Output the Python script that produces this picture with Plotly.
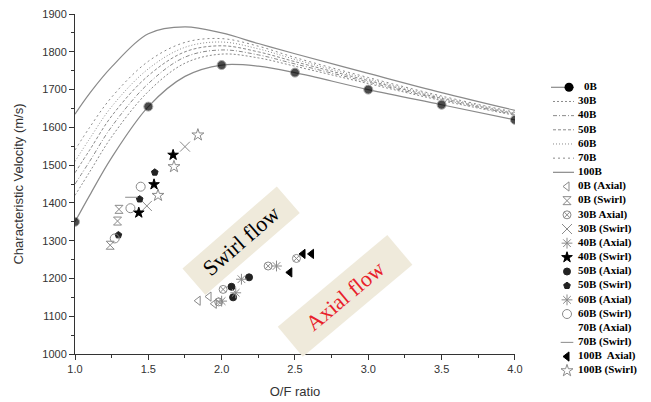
import plotly.graph_objects as go

# ---- theoretical curves ----
CURVE_X = [1.0, 1.1, 1.25, 1.5, 1.75, 2.0, 2.25, 2.5, 3.0, 3.5, 4.0]
C_0B   = [1350, 1420, 1520, 1655, 1735, 1765, 1762, 1745, 1700, 1660, 1620]
C_30B  = [1420, 1482, 1575, 1695, 1770, 1794, 1784, 1762, 1716, 1671, 1632]
C_40B  = [1450, 1510, 1602, 1716, 1786, 1805, 1792, 1768, 1720, 1674, 1634]
C_50B  = [1480, 1540, 1630, 1737, 1800, 1816, 1800, 1774, 1724, 1677, 1636]
C_60B  = [1510, 1570, 1655, 1755, 1812, 1826, 1808, 1780, 1728, 1680, 1638]
C_70B  = [1540, 1600, 1680, 1775, 1825, 1835, 1815, 1785, 1732, 1683, 1640]
C_100B = [1635, 1690, 1760, 1848, 1866, 1850, 1822, 1795, 1743, 1692, 1645]
MARK_0B = [9, 0, 0, 9, 0, 9, 0, 9, 9, 9, 9]

# ---- experimental points ----
AX0_X, AX0_Y = [1.84, 1.914, 1.95], [1141, 1152, 1133]
SW0_X, SW0_Y = [1.24, 1.29, 1.30], [1288, 1352, 1383]
AX30_X, AX30_Y = [1.98, 2.01, 2.317, 2.51], [1138, 1171, 1233, 1253]
SW30_X, SW30_Y = [1.49, 1.75], [1392, 1549]
AX40_X, AX40_Y = [2.0, 2.374], [1140, 1233]
SW40_X, SW40_Y = [1.435, 1.539, 1.669], [1374, 1449, 1527]
AX50_X, AX50_Y = [2.078, 2.067, 2.187], [1150, 1178, 1203]
SW50_X, SW50_Y = [1.296, 1.441, 1.544], [1315, 1410, 1481]
AX60_X, AX60_Y = [2.096, 2.135], [1162, 1198]
SW60_X, SW60_Y = [1.271, 1.378, 1.448], [1306, 1386, 1443]
AX70_X, AX70_Y = [], []
SW70_X, SW70_Y = [1.385], [1415]
AX100_X, AX100_Y = [2.465, 2.555, 2.613], [1216, 1265, 1265]
SW100_X, SW100_Y = [1.566, 1.675, 1.838], [1420, 1496, 1580]

X_TICKS = [1.0, 1.5, 2.0, 2.5, 3.0, 3.5, 4.0]
Y_TICKS = [1000, 1100, 1200, 1300, 1400, 1500, 1600, 1700, 1800, 1900]

OFF = 8                      # page body margin
W, H = 651 - OFF, 402 - OFF
PL, PR, PT, PB = 75 - OFF, 515 - OFF, 14 - OFF, 354 - OFF   # plot area in figure pixels
GRAY = "#8a8a8a"
fig = go.Figure()

# ---- curves ----
line_series = [
    ("0B", C_0B, "solid", 1.2),
    ("30B", C_30B, "2px,2px", 1),
    ("40B", C_40B, "4px,2px,1px,2px", 1),
    ("50B", C_50B, "3px,2px", 1),
    ("60B", C_60B, "1px,2px", 1),
    ("70B", C_70B, "2px,3px", 1),
    ("100B", C_100B, "solid", 1.2),
]
for name, ys, dash, w in line_series:
    if name == "0B":
        fig.add_trace(go.Scatter(x=CURVE_X, y=ys, name=name, mode="lines+markers",
                                 line=dict(color=GRAY, width=w, shape="spline"),
                                 marker=dict(color="black", size=MARK_0B), showlegend=False))
    else:
        fig.add_trace(go.Scatter(x=CURVE_X, y=ys, name=name, mode="lines",
                                 line=dict(color=GRAY, width=w, dash=dash, shape="spline"),
                                 showlegend=False))

pts = [
    ("0B (Axial)", AX0_X, AX0_Y, "triangle-left-open", GRAY, 8),
    ("0B (Swirl)", SW0_X, SW0_Y, "hourglass-open", GRAY, 8),
    ("30B Axial)", AX30_X, AX30_Y, "circle-x-open", GRAY, 8),
    ("30B (Swirl)", SW30_X, SW30_Y, "x-thin-open", GRAY, 10),
    ("40B (Axial)", AX40_X, AX40_Y, "asterisk-open", GRAY, 9),
    ("40B (Swirl)", SW40_X, SW40_Y, "star", "black", 8),
    ("50B (Axial)", AX50_X, AX50_Y, "circle", "#222222", 7),
    ("50B (Swirl)", SW50_X, SW50_Y, "pentagon", "#222222", 7),
    ("60B (Axial)", AX60_X, AX60_Y, "asterisk-open", GRAY, 9),
    ("60B (Swirl)", SW60_X, SW60_Y, "circle-open", GRAY, 9),
    ("70B (Axial)", AX70_X, AX70_Y, "circle", "rgba(0,0,0,0)", 8),
    ("70B (Swirl)", SW70_X, SW70_Y, "line-ew-open", GRAY, 9),
    ("100B  Axial)", AX100_X, AX100_Y, "triangle-left", "black", 8),
    ("100B (Swirl)", SW100_X, SW100_Y, "star-open", GRAY, 9),
]
for name, xs, ys, sym, col, sz in pts:
    fig.add_trace(go.Scatter(x=xs, y=ys, name=name, mode="markers", showlegend=False,
                             marker=dict(symbol=sym, color=col, size=sz,
                                         line=dict(color=col, width=1))))

# ---- hand-built legend on a helper axis measured in page pixels ----
LEG_Y0, LEG_STEP = 87.3, 14.17
LINE_X0, LINE_X1, SYM_X, TXT_X = 553, 574, 567, 578
LEG_LEFT = 530
names = []
row = 0
for name, ys, dash, w in line_series:
    yy = LEG_Y0 + row * LEG_STEP
    fig.add_trace(go.Scatter(x=[LINE_X0 - (2 if name == "0B" else 0), LINE_X1], y=[yy, yy],
                             mode="lines", line=dict(color=GRAY, width=w, dash=dash),
                             xaxis="x2", yaxis="y2", showlegend=False, hoverinfo="skip"))
    if name == "0B":
        fig.add_trace(go.Scatter(x=[569], y=[yy], mode="markers",
                                 marker=dict(color="black", size=9),
                                 xaxis="x2", yaxis="y2", showlegend=False, hoverinfo="skip"))
    names.append((name, yy))
    row += 1
for name, xs, ys, sym, col, sz in pts:
    yy = LEG_Y0 + row * LEG_STEP
    fig.add_trace(go.Scatter(x=[SYM_X], y=[yy], mode="markers",
                             marker=dict(symbol=sym, color=col, size=sz,
                                         line=dict(color=col, width=1)),
                             xaxis="x2", yaxis="y2", showlegend=False, hoverinfo="skip"))
    names.append((name, yy))
    row += 1
fig.add_trace(go.Scatter(x=[TXT_X + (6 if n == "0B" else 0) for n, _ in names],
                         y=[yy for _, yy in names], text=[n for n, _ in names],
                         mode="text", textposition="middle right",
                         textfont=dict(family="Liberation Serif", size=11, color="black",
                                       weight="bold"),
                         xaxis="x2", yaxis="y2", showlegend=False, hoverinfo="skip"))

fig.add_annotation(x=2.13, y=1300, text="Swirl flow", showarrow=False, textangle=-41,
                   font=dict(family="Liberation Serif", size=22, color="black"),
                   bgcolor="#efeadb", width=122, height=32)
fig.add_annotation(x=2.84, y=1154, text="Axial flow", showarrow=False, textangle=-40,
                   font=dict(family="Liberation Serif", size=22, color="#e8202a"),
                   bgcolor="#efeadb", width=140, height=36)

axis_common = dict(showline=True, linecolor="#333", linewidth=1, ticks="outside",
                   ticklen=5, tickcolor="#333", showgrid=False, zeroline=False,
                   automargin=False, ticklabeloverflow="allow",
                   tickfont=dict(family="Liberation Sans", size=11, color="#333"))
fig.update_layout(
    xaxis=dict(domain=[PL / W, PR / W], range=[1.0, 4.0005], tickvals=X_TICKS,
               ticktext=[f"{v:.1f}" for v in X_TICKS],
               minor=dict(ticks="outside", ticklen=3, dtick=0.25, tick0=1.0, tickcolor="#333"),
               title=dict(text="O/F ratio", standoff=12,
                          font=dict(family="Liberation Sans", size=13, color="#333")),
               **axis_common),
    yaxis=dict(domain=[(H - PB) / H, (H - PT) / H], range=[1000, 1900.2], tickvals=Y_TICKS,
               minor=dict(ticks="outside", ticklen=3, dtick=50, tick0=1000, tickcolor="#333"),
               title=dict(text="Characteristic Velocity (m/s)", standoff=15,
                          font=dict(family="Liberation Sans", size=13, color="#333")),
               **axis_common),
    xaxis2=dict(domain=[(LEG_LEFT - OFF) / W, 1.0], range=[LEG_LEFT, W + OFF], visible=False,
                anchor="y2", fixedrange=True),
    yaxis2=dict(domain=[0.0, 1.0], range=[H + OFF, OFF], visible=False, anchor="x2",
                fixedrange=True),
    width=W, height=H, margin=dict(l=0, r=0, t=0, b=0),
    plot_bgcolor="rgba(0,0,0,0)", paper_bgcolor="white", showlegend=False,
)

fig.write_html("out.html")
